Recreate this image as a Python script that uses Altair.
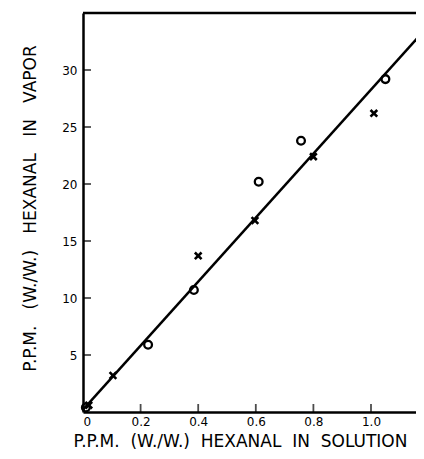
import altair as alt
import pandas as pd

# Data
circle_x = [0.01, 0.226, 0.385, 0.61, 0.757, 1.05]
circle_y = [0.4, 5.9, 10.7, 20.2, 23.8, 29.2]
cross_x = [0.02, 0.104, 0.40, 0.597, 0.80, 1.01]
cross_y = [0.6, 3.2, 13.7, 16.8, 22.4, 26.2]
fit_x = [0.0, 1.2]
fit_y = [0.2, 33.9]
x_ticks = [0.2, 0.4, 0.6, 0.8, 1.0]
y_ticks = [5, 10, 15, 20, 25, 30]

W, H = 333, 399
XMAX = W / 288.0
YMAX = 35
FONT = "DejaVu Sans"
SP2 = "\u00a0\u00a0"
SP3 = "\u00a0\u00a0\u00a0"

xs = alt.Scale(domain=[0, XMAX], nice=False, zero=False)
ys = alt.Scale(domain=[0, YMAX], nice=False, zero=False)

circles = pd.DataFrame({"x": circle_x, "y": circle_y})
crosses = pd.DataFrame({"x": cross_x, "y": cross_y})
fit = pd.DataFrame({"x": fit_x, "y": fit_y})

xaxis = alt.Axis(
    values=[0] + x_ticks,
    labelExpr="datum.value == 0 ? '0' : format(datum.value, '.1f')",
    tickSize=0, labelPadding=4, domainWidth=2.5, domainColor="black",
    labelFont=FONT, labelFontSize=12, labelColor="black", grid=False,
    title=SP2.join(["P.P.M.", "(W./W.)", "HEXANAL", "IN", "SOLUTION"]),
    titleFont=FONT, titleFontSize=17, titleFontWeight="normal",
    titleColor="black", titleX=157, titleY=34, titleAlign="center",
    titleBaseline="alphabetic",
)
yaxis = alt.Axis(
    values=y_ticks, tickSize=0, labelPadding=6, domainWidth=2.5,
    domainColor="black", labelFont=FONT, labelFontSize=12,
    labelColor="black", grid=False,
    title=SP3.join(["P.P.M.", "(W./W.)", "HEXANAL", "IN", "VAPOR"]),
    titleFont=FONT, titleFontSize=17, titleFontWeight="normal",
    titleColor="black", titleX=-48, titleY=195, titleAlign="center",
    titleBaseline="alphabetic",
)

line = alt.Chart(fit).mark_line(color="black", strokeWidth=2.5, clip=True).encode(
    x=alt.X("x:Q", scale=xs, axis=xaxis),
    y=alt.Y("y:Q", scale=ys, axis=yaxis),
)

pts_c = alt.Chart(circles).mark_point(
    shape="circle", size=60, filled=False, color="black", strokeWidth=2.3, opacity=1
).encode(x=alt.X("x:Q", scale=xs), y=alt.Y("y:Q", scale=ys))

pts_x = alt.Chart(crosses).mark_point(
    shape="M -1 -1 L 1 1 M -1 1 L 1 -1", size=45, filled=False,
    color="black", strokeWidth=2.6, opacity=1
).encode(x=alt.X("x:Q", scale=xs), y=alt.Y("y:Q", scale=ys))

xt = alt.Chart(pd.DataFrame({"x": x_ticks})).mark_tick(
    orient="vertical", size=8, thickness=1.8, color="black"
).encode(x=alt.X("x:Q", scale=xs), y=alt.value(H - 4))

yt = alt.Chart(pd.DataFrame({"y": y_ticks})).mark_tick(
    orient="horizontal", size=8, thickness=1.8, color="black"
).encode(y=alt.Y("y:Q", scale=ys), x=alt.value(4))

top = alt.Chart(pd.DataFrame({"y": [YMAX]})).mark_rule(
    color="black", strokeWidth=2.5
).encode(y=alt.Y("y:Q", scale=ys))

chart = alt.layer(line, pts_c, pts_x, xt, yt, top).properties(
    width=W, height=H,
    autosize=alt.AutoSizeParams(type="none"),
    padding={"left": 75, "top": 5, "right": 0, "bottom": 39},
).configure_view(stroke=None).configure(background="white")

chart.save("out.html", embed_options={"renderer": "svg", "actions": False})
